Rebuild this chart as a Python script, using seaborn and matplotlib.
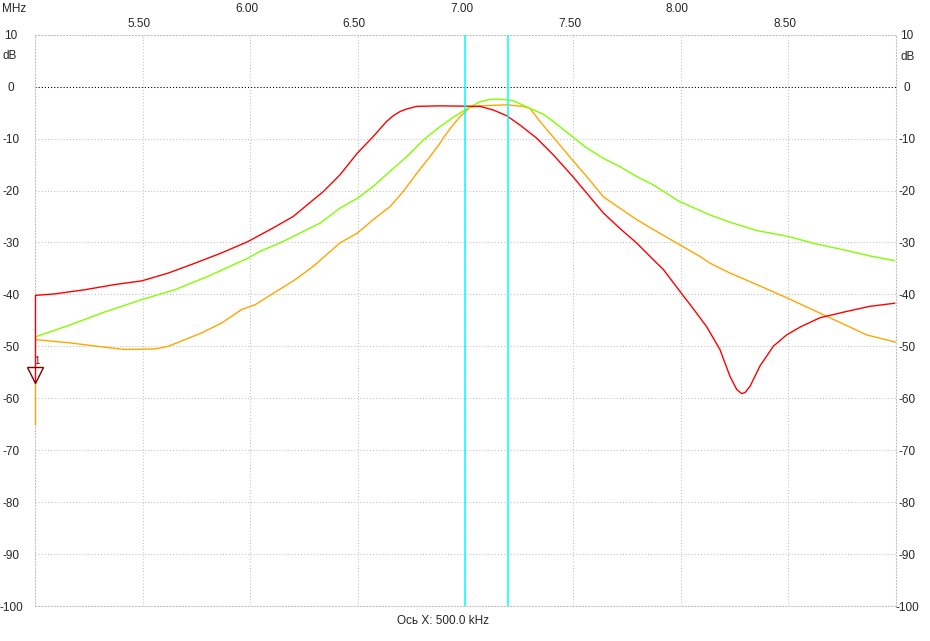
import matplotlib
matplotlib.use("Agg")
import matplotlib.pyplot as plt
import matplotlib.transforms as mtransforms
import seaborn as sns

sns.set_style("white")
plt.rcParams["font.family"] = ["Liberation Sans", "DejaVu Sans"]

# traces (MHz, dB)
red_f = [5.000, 5.093, 5.232, 5.372, 5.496, 5.619, 5.743, 5.868, 5.991, 6.107,
         6.200, 6.293, 6.340, 6.417, 6.498, 6.572, 6.634, 6.665, 6.696, 6.727,
         6.774, 6.882, 7.068, 7.130, 7.192, 7.254, 7.331, 7.408, 7.497, 7.564,
         7.641, 7.718, 7.796, 7.873, 7.920, 7.997, 8.060, 8.121, 8.183, 8.230,
         8.261, 8.284, 8.300, 8.323, 8.369, 8.431, 8.493, 8.560, 8.648, 8.770,
         8.880, 8.996]
red_db = [-40.2, -39.9, -39.1, -38.1, -37.4, -35.9, -34.0, -32.0, -29.8, -27.2,
          -25.0, -21.8, -20.2, -17.0, -12.8, -9.6, -6.7, -5.6, -4.8, -4.3,
          -3.8, -3.7, -3.8, -4.5, -5.6, -7.4, -9.9, -13.1, -17.2, -20.5,
          -24.3, -27.3, -30.1, -33.3, -35.2, -39.4, -42.8, -46.2, -50.6, -55.8,
          -58.3, -59.1, -58.9, -57.7, -53.8, -50.0, -47.8, -46.2, -44.5, -43.3,
          -42.3, -41.7]

orange_f = [5.000, 5.155, 5.310, 5.418, 5.558, 5.619, 5.697, 5.775, 5.868, 5.961,
            6.023, 6.115, 6.208, 6.293, 6.417, 6.498, 6.572, 6.650, 6.711, 6.774,
            6.835, 6.882, 6.897, 6.940, 6.975, 7.021, 7.068, 7.192, 7.269, 7.300,
            7.347, 7.408, 7.497, 7.564, 7.641, 7.718, 7.796, 7.873, 7.994, 8.091,
            8.137, 8.230, 8.354, 8.496, 8.632, 8.679, 8.865, 9.000]
orange_db = [-48.7, -49.3, -50.1, -50.6, -50.5, -50.0, -48.7, -47.4, -45.5, -42.9,
             -42.0, -39.6, -37.2, -34.6, -30.1, -28.2, -25.6, -23.1, -20.2, -16.7,
             -13.5, -10.9, -9.9, -7.5, -5.8, -4.0, -3.7, -3.5, -3.8, -4.2,
             -6.7, -9.7, -14.1, -17.3, -21.2, -23.4, -25.6, -27.5, -30.4, -32.7,
             -34.0, -35.9, -38.1, -40.7, -43.3, -44.2, -47.8, -49.2]

green_f = [5.000, 5.155, 5.310, 5.496, 5.650, 5.805, 5.991, 6.046, 6.138, 6.231,
           6.324, 6.417, 6.498, 6.572, 6.650, 6.727, 6.804, 6.882, 6.940, 6.998,
           7.068, 7.110, 7.145, 7.190, 7.223, 7.285, 7.362, 7.408, 7.497, 7.564,
           7.641, 7.718, 7.796, 7.873, 7.994, 8.044, 8.137, 8.230, 8.354, 8.496,
           8.632, 8.756, 8.880, 8.996]
green_db = [-48.2, -46.0, -43.6, -41.0, -39.1, -36.5, -33.0, -31.7, -30.1, -28.2,
            -26.3, -23.4, -21.5, -19.2, -16.3, -13.5, -10.3, -7.7, -6.0, -4.5,
            -2.9, -2.5, -2.4, -2.5, -2.7, -3.9, -5.3, -6.7, -9.6, -11.8,
            -13.8, -15.4, -17.3, -18.9, -22.1, -23.0, -24.7, -26.1, -27.7, -28.8,
            -30.3, -31.4, -32.6, -33.5]

x_ticks = [5.5, 6.0, 6.5, 7.0, 7.5, 8.0, 8.5]
x_labels = ["5.50", "6.00", "6.50", "7.00", "7.50", "8.00", "8.50"]
y_ticks = [-100, -90, -80, -70, -60, -50, -40, -30, -20, -10, 0, 10]
cursors = [7.00, 7.20]
marker_f = 5.0
marker_db = -55.6
stem_red = [-40.2, -57.1]
stem_orange = [-57.1, -65.0]

FS = 8.5

fig = plt.figure(figsize=(9.3, 6.41), dpi=100)
ax = fig.add_axes([35 / 930, 1 - 606 / 641, 860.7 / 930, 571.3 / 641])

dots = (0, (1, 2))
ax.grid(True, color="#c0c0c0", linestyle=dots, lw=0.75)
for s in ax.spines.values():
    s.set_linestyle(dots); s.set_color("#c0c0c0"); s.set_linewidth(0.75)
ax.axhline(0, color="black", linestyle=dots, lw=0.75, zorder=2)

for f, db, c in [(orange_f, orange_db, "#ffa500"),
                 (green_f, green_db, "#80ff00"),
                 (red_f, red_db, "#ff0000")]:
    sns.lineplot(x=f, y=db, color=c, lw=1.0, ax=ax, sort=False, estimator=None)

for c in cursors:
    ax.axvline(c, color="#00ffff", lw=1.1, zorder=5)

# marker 1 at the left edge
ax.plot([marker_f] * 2, stem_red, color="#ff0000", lw=1.0, clip_on=False, zorder=6)
ax.plot([marker_f] * 2, stem_orange, color="#ffa500", lw=1.0, clip_on=False, zorder=6)
ax.plot(marker_f, marker_db, marker="v", ms=11.5, mfc="none", mec="#800000",
        mew=1.0, clip_on=False, zorder=7)
ax.text(marker_f + 0.007, -52.8, "1", color="#800000", fontsize=7,
        ha="center", va="center", clip_on=False)

ax.set_xlim(5.0, 9.0)
ax.set_ylim(-100, 10)
ax.set_xlabel(""); ax.set_ylabel("")

ax.xaxis.tick_top()
ax.set_xticks(x_ticks, x_labels)
ax.tick_params(axis="x", length=0, labelsize=FS, pad=3.2)
shift = mtransforms.ScaledTranslation(-3.5 / 100, 0, fig.dpi_scale_trans)
for i, t in enumerate(ax.xaxis.get_major_ticks()):
    if i % 2 == 1:
        t.set_pad(14.0)
    t.label2.set_transform(t.label2.get_transform() + shift)

ax.set_yticks(y_ticks, [str(v) for v in y_ticks])
ax.tick_params(axis="y", length=0, labelsize=FS, pad=17.3)
for lbl in ax.get_yticklabels():
    lbl.set_ha("center")

ax2 = ax.twinx()
ax2.set_ylim(-100, 10)
ax2.set_yticks(y_ticks, [str(v) for v in y_ticks])
ax2.tick_params(axis="y", length=0, labelsize=FS, pad=8.1)
for lbl in ax2.get_yticklabels():
    lbl.set_ha("center")
for s in ax2.spines.values():
    s.set_visible(False)

fig.text(13.8 / 930, 1 - 8.8 / 641, "MHz", fontsize=FS, ha="center", va="center")
fig.text(9.3 / 930, 1 - 56.2 / 641, "dB", fontsize=FS, ha="center", va="center")
fig.text(907.5 / 930, 1 - 56.7 / 641, "dB", fontsize=FS, ha="center", va="center")
fig.text(443 / 930, 1 - 621 / 641, "Ось X: 500.0 kHz", fontsize=FS,
         ha="center", va="center")

fig.savefig("out.png", dpi=100, facecolor="white")
